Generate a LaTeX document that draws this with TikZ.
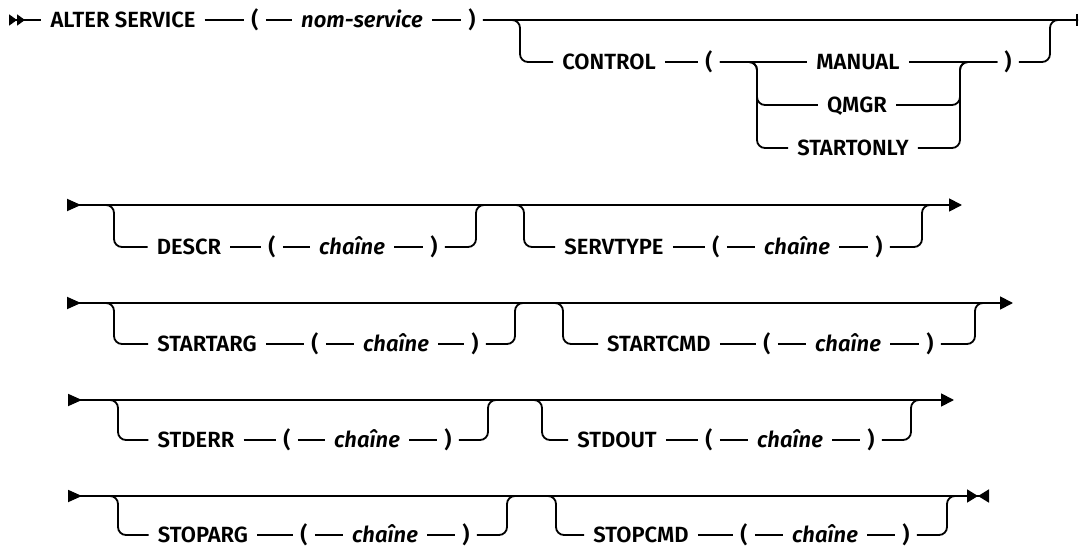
\documentclass[tikz,border=0pt]{standalone}
\usepackage{fontspec}
\setmainfont{Fira Sans}[BoldFont={Fira Sans SemiBold},BoldItalicFont={Fira Sans SemiBold Italic}]
\usetikzlibrary{arrows.meta}
\newcommand\railfont{\fontsize{22pt}{26pt}\selectfont\bfseries}

\begin{document}
\begin{tikzpicture}[x=1pt,y=-1pt,font=\railfont]
 \tikzset{rail/.style={line width=1.8pt},
          fork/.style={rail,rounded corners=8pt},
          kw/.style={inner xsep=9pt,inner ysep=0pt,text height=15pt,text depth=0pt},
          var/.style={kw,font=\railfont\itshape},
          paren/.style={kw,inner xsep=7pt},
          rowline/.style={rail,arrows={Triangle[reversed,length=14pt,width=12pt]-Triangle[length=13pt,width=13pt]}},
          lastline/.style={rail,arrows={Triangle[reversed,length=14pt,width=12pt]-Triangle[length=11pt,width=13pt]Triangle[reversed,length=11pt,width=13pt]}}}
 \useasboundingbox (0,0) rectangle (1081,548);
 % ALTER SERVICE ( nom-service ) [CONTROL ...]
 \coordinate (s1) at (9,20);
 \node[kw] (alter) at (123,20) {ALTER SERVICE};
 \node[paren] (lp1) at (255,20) {(};
 \node[var] (nomserv) at (362,20) {nom-service};
 \node[paren] (rp1) at (472,20) {)};
 \coordinate (e1) at (1078,20);
 \draw[rail,arrows={Triangle[reversed,length=8pt,width=11pt]Triangle[reversed,length=8pt,width=11pt]-}] (s1) -- (alter);
 \draw[rail] (alter) -- (lp1) -- (nomserv) -- (rp1);
 \draw[rail,-{Bar[width=12pt]}] (rp1) -- (e1);
 \node[kw] (control) at (609,62) {CONTROL};
 \node[paren] (lp1b) at (709,62) {(};
 \node[kw] (manual) at (858,62) {MANUAL};
 \node[kw] (qmgr) at (857,105) {QMGR};
 \node[kw] (startonly) at (853,148) {STARTONLY};
 \node[paren] (rp1b) at (1008,62) {)};
 \coordinate (f1) at (520,20); \coordinate (j1) at (1050,20);
 \coordinate (g1) at (757,62); \coordinate (h1) at (960,62);
 \draw[fork] (rp1) -- (f1) |- (control);
 \draw[rail] (control) -- (lp1b) -- (manual) -- (rp1b);
 \draw[fork] (lp1b) -- (g1) |- (qmgr) -| (h1) -- (rp1b);
 \draw[fork] (lp1b) -- (g1) |- (startonly) -| (h1) -- (rp1b);
 \draw[fork] (rp1b) -| (j1) -- (e1);
 % DESCR / SERVTYPE
 \coordinate (s2) at (67,205); \coordinate (e2) at (962,205);
 \node[kw] (descr) at (189,247) {DESCR};
 \node[paren] (lp2a) at (272,247) {(};
 \node[var] (chaine2a) at (352,247) {chaîne};
 \node[paren] (rp2a) at (434,247) {)};
 \node[kw] (servtype) at (614,247) {SERVTYPE};
 \node[paren] (lp2b) at (716,247) {(};
 \node[var] (chaine2b) at (797,247) {chaîne};
 \node[paren] (rp2b) at (879,247) {)};
 \coordinate (f2a) at (114,205); \coordinate (j2a) at (476,205);
 \coordinate (f2b) at (524,205); \coordinate (j2b) at (922,205);
 \draw[rowline] (s2) -- (e2);
 \draw[rail] (descr) -- (lp2a) -- (chaine2a) -- (rp2a);
 \draw[rail] (servtype) -- (lp2b) -- (chaine2b) -- (rp2b);
 \draw[fork] (s2) -- (f2a) |- (descr);
 \draw[fork] (rp2a) -| (j2a) -- (f2b) |- (servtype);
 \draw[fork] (rp2b) -| (j2b) -- ++(12pt,0);
 % STARTARG / STARTCMD
 \coordinate (s3) at (67,303); \coordinate (e3) at (1013,303);
 \node[kw] (startarg) at (207,344) {STARTARG};
 \node[paren] (lp3a) at (315,344) {(};
 \node[var] (chaine3a) at (396,344) {chaîne};
 \node[paren] (rp3a) at (475,344) {)};
 \node[kw] (startcmd) at (659,344) {STARTCMD};
 \node[paren] (lp3b) at (767,344) {(};
 \node[var] (chaine3b) at (848,344) {chaîne};
 \node[paren] (rp3b) at (930,344) {)};
 \coordinate (f3a) at (114,303); \coordinate (j3a) at (515,303);
 \coordinate (f3b) at (563,303); \coordinate (j3b) at (975,303);
 \draw[rowline] (s3) -- (e3);
 \draw[rail] (startarg) -- (lp3a) -- (chaine3a) -- (rp3a);
 \draw[rail] (startcmd) -- (lp3b) -- (chaine3b) -- (rp3b);
 \draw[fork] (s3) -- (f3a) |- (startarg);
 \draw[fork] (rp3a) -| (j3a) -- (f3b) |- (startcmd);
 \draw[fork] (rp3b) -| (j3b) -- ++(12pt,0);
 % STDERR / STDOUT
 \coordinate (s4) at (68,400); \coordinate (e4) at (954,400);
 \node[kw] (stderr) at (196,440) {STDERR};
 \node[paren] (lp4a) at (287,440) {(};
 \node[var] (chaine4a) at (367,440) {chaîne};
 \node[paren] (rp4a) at (448,440) {)};
 \node[kw] (stdout) at (617,440) {STDOUT};
 \node[paren] (lp4b) at (709,440) {(};
 \node[var] (chaine4b) at (790,440) {chaîne};
 \node[paren] (rp4b) at (871,440) {)};
 \coordinate (f4a) at (118,400); \coordinate (j4a) at (488,400);
 \coordinate (f4b) at (542,400); \coordinate (j4b) at (911,400);
 \draw[rowline] (s4) -- (e4);
 \draw[rail] (stderr) -- (lp4a) -- (chaine4a) -- (rp4a);
 \draw[rail] (stdout) -- (lp4b) -- (chaine4b) -- (rp4b);
 \draw[fork] (s4) -- (f4a) |- (stderr);
 \draw[fork] (rp4a) -| (j4a) -- (f4b) |- (stdout);
 \draw[fork] (rp4b) -| (j4b) -- ++(12pt,0);
 % STOPARG / STOPCMD
 \coordinate (s5) at (68,496); \coordinate (e5) at (989,496);
 \node[kw] (stoparg) at (203,535) {STOPARG};
 \node[paren] (lp5a) at (304,535) {(};
 \node[var] (chaine5a) at (385,535) {chaîne};
 \node[paren] (rp5a) at (466,535) {)};
 \node[kw] (stopcmd) at (641,535) {STOPCMD};
 \node[paren] (lp5b) at (744,535) {(};
 \node[var] (chaine5b) at (825,535) {chaîne};
 \node[paren] (rp5b) at (906,535) {)};
 \coordinate (f5a) at (118,496); \coordinate (j5a) at (507,496);
 \coordinate (f5b) at (556,496); \coordinate (j5b) at (947,496);
 \draw[lastline] (s5) -- (e5);
 \draw[rail] (stoparg) -- (lp5a) -- (chaine5a) -- (rp5a);
 \draw[rail] (stopcmd) -- (lp5b) -- (chaine5b) -- (rp5b);
 \draw[fork] (s5) -- (f5a) |- (stoparg);
 \draw[fork] (rp5a) -| (j5a) -- (f5b) |- (stopcmd);
 \draw[fork] (rp5b) -| (j5b) -- ++(10pt,0);
\end{tikzpicture}
\end{document}
